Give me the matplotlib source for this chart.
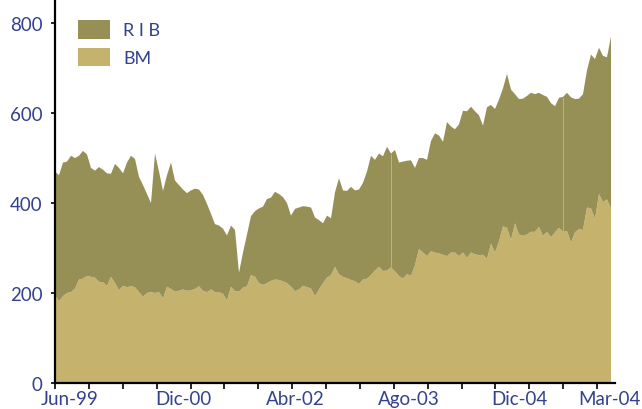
import matplotlib
matplotlib.use("Agg")
import matplotlib.pyplot as plt
import numpy as np
from matplotlib.patches import Patch

# BM values (bottom layer), read left to right
bm = [195, 182, 193, 200, 202, 210, 230, 232, 238, 236,
      234, 225, 224, 216, 236, 222, 206, 216, 213, 215,
      213, 202, 192, 200, 202, 200, 202, 188, 214, 209,
      203, 205, 208, 205, 206, 209, 215, 205, 202, 208,
      202, 202, 198, 184, 214, 204, 203, 212, 215, 240,
      236, 222, 218, 222, 227, 230, 229, 226, 222, 214,
      204, 208, 216, 213, 210, 193, 208, 222, 234, 240,
      258, 242, 236, 233, 229, 226, 220, 230, 232, 240,
      250, 258, 249, 250, 257, 248, 238, 232, 242, 238,
      262, 298, 290, 282, 293, 290, 288, 285, 282, 290,
      290, 282, 290, 278, 290, 286, 284, 285, 276, 310,
      290, 315, 348, 345, 318, 355, 330, 327, 330, 336,
      336, 347, 327, 336, 324, 335, 345, 336, 338, 312,
      335, 342, 340, 390, 388, 365, 420, 402, 408, 388]

# RIB values (stacked on top of BM)
rib = [275, 280, 297, 292, 303, 290, 275, 284, 270, 242,
       238, 255, 250, 250, 229, 265, 272, 250, 277, 290,
       285, 256, 248, 220, 198, 310, 268, 239, 248, 281,
       247, 235, 222, 217, 222, 223, 215, 213, 196, 168,
       151, 148, 145, 144, 136, 136, 42, 78, 115, 131,
       146, 166, 174, 187, 185, 195, 191, 187, 178, 158,
       183, 182, 177, 179, 180, 175, 154, 133, 138, 126,
       166, 213, 192, 194, 207, 202, 210, 215, 238, 265,
       246, 252, 255, 275, 253, 270, 252, 260, 252, 257,
       216, 202, 210, 214, 245, 265, 262, 251, 298, 280,
       274, 293, 315, 326, 324, 318, 311, 287, 337, 308,
       319, 315, 307, 342, 334, 287, 301, 305, 308, 309,
       306, 298, 313, 300, 298, 280, 289, 300, 307, 323,
       296, 290, 302, 305, 342, 355, 325, 325, 316, 382]

tick_labels = ["Jun-99", "Dic-00", "Abr-02", "Ago-03", "Dic-04", "Mar-04"]
series_names = ["R I B", "BM"]
yticks = [0, 200, 400, 600, 800]

c_rib = "#968F56"
c_bm = "#C5B26C"
c_txt = "#33418F"

plt.rcParams['font.family'] = ['Lato', 'DejaVu Sans']

fig = plt.figure(figsize=(6.42, 4.10), dpi=100)
ax = fig.add_axes([55/642, 26/410, 560/642, 382/410])

x = np.arange(len(bm))
ax.stackplot(x, bm, rib, colors=[c_bm, c_rib], linewidth=0)
total = np.array(bm) + np.array(rib)
for i in (84, 127):
    ax.vlines(x[i], 0, total[i], color="#b9b28c", lw=0.7)

ax.set_xlim(0, 140)
ax.set_ylim(0, 849)

for s in ("top", "right"):
    ax.spines[s].set_visible(False)
for s in ("left", "bottom"):
    ax.spines[s].set_linewidth(1.6)
    ax.spines[s].set_color("black")

ax.set_yticks(yticks)
ax.set_yticklabels([str(v) for v in yticks])
ax.tick_params(axis="y", direction="out", length=3, width=1.2, colors="black",
               labelcolor=c_txt, labelsize=13.5, pad=6)

ax.set_xticks([3.75, 32, 60, 88.5, 116, 138.5])
ax.set_xticklabels(tick_labels)
ax.set_xticks(np.arange(17) * 8.47, minor=True)
ax.tick_params(axis="x", which="major", length=0, labelcolor=c_txt, labelsize=13.5, pad=5)
ax.tick_params(axis="x", which="minor", direction="out", length=4, width=1.2, colors="black")

handles = [Patch(facecolor=c_rib, edgecolor="none"), Patch(facecolor=c_bm, edgecolor="none")]
leg = ax.legend(handles, series_names, loc="upper left", bbox_to_anchor=(0.041, 0.950),
                frameon=False, borderpad=0, borderaxespad=0,
                handlelength=1.75, handleheight=1.2, handletextpad=0.75,
                labelspacing=0.5, fontsize=13)
for t in leg.get_texts():
    t.set_color(c_txt)

fig.savefig("out.png", dpi=100)
